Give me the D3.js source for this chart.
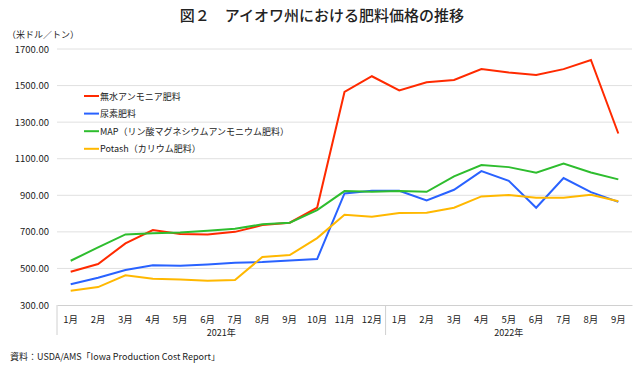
<!DOCTYPE html>
<html><head><meta charset="utf-8">
<script src="https://cdn.jsdelivr.net/npm/d3@7"></script>
<style>
html,body{margin:0;padding:0;background:#fff;}
text{font-family:"Noto Sans CJK JP","Noto Sans",sans-serif;fill:#222;}
</style></head>
<body><svg id="c" width="639" height="367"></svg>
<script>
const months = ["1月","2月","3月","4月","5月","6月","7月","8月","9月","10月","11月","12月","1月","2月","3月","4月","5月","6月","7月","8月","9月"];
const years = [{label:"2021年", from:0, to:12},{label:"2022年", from:12, to:21}];
const yTicks = [300,500,700,900,1100,1300,1500,1700];
const seriesNames = ["無水アンモニア肥料","尿素肥料","MAP（リン酸マグネシウムアンモニウム肥料）","Potash（カリウム肥料）"];
const seriesColors = ["#ff2a00","#2962ff","#2ebd2e","#ffb800"];
const ammonia = [482,524,637,710,688,686,700,737,750,832,1465,1551,1473,1518,1531,1590,1571,1558,1590,1640,1238];
const urea    = [413,449,491,517,515,522,531,535,544,551,910,925,925,872,930,1032,979,832,994,917,864];
const map     = [542,615,686,692,697,706,717,741,750,819,923,919,923,919,1003,1065,1054,1023,1074,1025,987];
const potash  = [378,398,462,444,440,433,437,562,573,666,793,782,803,804,832,894,901,886,886,903,867];
const seriesData = [ammonia, urea, map, potash];

const svg = d3.select("#c");
const L = 57, R = 632, T = 49, B = 305;
const x = d3.scaleBand().domain(d3.range(months.length)).range([L, R]);
const y = d3.scaleLinear().domain([300,1700]).range([B, T]);

svg.append("text").attr("x", 322).attr("y", 21).attr("text-anchor","middle")
  .style("font-size","15px").style("font-weight","500").text("図２　アイオワ州における肥料価格の推移");
svg.append("text").attr("x", 7).attr("y", 38).style("font-size","9px").text("（米ドル／トン）");

// grid
svg.append("g").selectAll("line").data(yTicks.slice(1)).join("line")
  .attr("x1", L).attr("x2", R).attr("y1", d=>y(d)).attr("y2", d=>y(d))
  .attr("stroke","#e0e0e0").attr("stroke-width",1);

// y axis labels
const ya = svg.append("g").attr("transform",`translate(${L},0)`)
  .call(d3.axisLeft(y).tickValues(yTicks).tickFormat(d3.format(".2f")).tickSize(0).tickPadding(8));
ya.select(".domain").remove();
ya.selectAll("text").style("font-size","9.5px").style("font-family","'Noto Sans CJK JP',sans-serif").attr("fill","#222");

// x axis
const xa = svg.append("g").attr("transform",`translate(0,${B})`)
  .call(d3.axisBottom(x).tickFormat(i=>months[i]).tickSize(0).tickPadding(11));
xa.select(".domain").attr("stroke","#d0d0d0");
xa.selectAll("text").style("font-size","9.5px").style("font-family","'Noto Sans CJK JP',sans-serif").attr("fill","#222");

// group separators
const seps = [0, 12];
svg.append("g").selectAll("line").data(seps).join("line")
  .attr("x1", i=>x(i)).attr("x2", i=>x(i)).attr("y1", B).attr("y2", B+30)
  .attr("stroke","#d0d0d0");
svg.append("g").selectAll("text").data(years).join("text")
  .attr("x", d=> (x(d.from) + x(d.to-1)+x.bandwidth())/2).attr("y", B+31)
  .attr("text-anchor","middle").style("font-size","9px").text(d=>d.label);

// lines
const line = d3.line().x((d,i)=>x(i)+x.bandwidth()/2).y(d=>y(d));
svg.append("g").selectAll("path").data(seriesData).join("path")
  .attr("d", line).attr("fill","none").attr("stroke",(d,i)=>seriesColors[i]).attr("stroke-width",2);

// legend
const lg = svg.append("g").selectAll("g").data(seriesNames).join("g")
  .attr("transform",(d,i)=>`translate(84,${96 + i*17.6})`);
lg.append("line").attr("x1",0).attr("x2",15).attr("y1",0).attr("y2",0)
  .attr("stroke",(d,i)=>seriesColors[i]).attr("stroke-width",2);
lg.append("text").attr("x",16).attr("y",3.5).style("font-size","9px").text(d=>d);

svg.append("text").attr("x", 10).attr("y", 360).style("font-size","9px")
  .text("資料：USDA/AMS「Iowa Production Cost Report」");
</script></body></html>
